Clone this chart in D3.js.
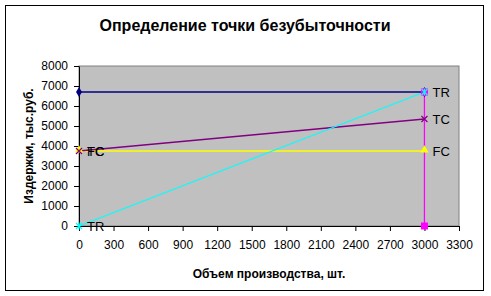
<!DOCTYPE html>
<html>
<head>
<meta charset="utf-8">
<script src="https://cdn.jsdelivr.net/npm/d3@7"></script>
<style>
  body { margin: 0; background: #fff; }
  text { font-family: Arial, "Liberation Sans", sans-serif; }
</style>
</head>
<body>
<div id="chart"></div>
<script>
// Break-even chart data
const xTicks = [0, 300, 600, 900, 1200, 1500, 1800, 2100, 2400, 2700, 3000, 3300];
const yTicks = [0, 1000, 2000, 3000, 4000, 5000, 6000, 7000, 8000];

const volume = [0, 3000];
const revenueLevel = [6700, 6700]; // navy horizontal
const trValues = [0, 6700];
const tcValues = [3750, 5350];
const fcValues = [3750, 3750];
const bepX = [3000, 3000];
const bepY = [0, 6700];

const W = 491, H = 296;
const margin = {top: 66, right: 32, bottom: 70, left: 79};
const width = W - margin.left - margin.right;
const height = H - margin.top - margin.bottom;

const svg = d3.select('#chart').append('svg')
  .attr('width', W).attr('height', H);

// outer frame
svg.append('rect')
  .attr('x', 5.5).attr('y', 5.5)
  .attr('width', 478).attr('height', 285)
  .attr('fill', '#fff').attr('stroke', '#000');

svg.append('text')
  .attr('x', 245).attr('y', 31)
  .attr('text-anchor', 'middle')
  .attr('font-size', 16).attr('font-weight', 'bold')
  .text('Определение точки безубыточности');

const g = svg.append('g').attr('transform', `translate(${margin.left},${margin.top})`);

const x = d3.scaleLinear().domain([0, 3300]).range([0, width]);
const y = d3.scaleLinear().domain([0, 8000]).range([height, 0]);

g.append('rect')
  .attr('width', width).attr('height', height)
  .attr('fill', '#c0c0c0').attr('stroke', '#808080');

// axes
const xAxis = g.append('g')
  .attr('transform', `translate(0,${height})`)
  .call(d3.axisBottom(x).tickValues(xTicks).tickFormat(d3.format('d'))
    .tickSize(5).tickSizeOuter(0).tickPadding(9));
const yAxis = g.append('g')
  .call(d3.axisLeft(y).tickValues(yTicks).tickFormat(d3.format('d'))
    .tickSize(5).tickSizeOuter(0).tickPadding(6));
[xAxis, yAxis].forEach(a => {
  a.selectAll('text').attr('font-size', 12).attr('font-family', 'Arial, "Liberation Sans", sans-serif').attr('fill', '#000');
  a.selectAll('line, path').attr('stroke', '#000');
});

svg.append('text')
  .attr('x', margin.left + width / 2).attr('y', 278)
  .attr('text-anchor', 'middle')
  .attr('font-size', 12).attr('font-weight', 'bold')
  .text('Объем производства, шт.');

svg.append('text')
  .attr('transform', `translate(33,${margin.top + height / 2}) rotate(-90)`)
  .attr('text-anchor', 'middle')
  .attr('font-size', 12).attr('font-weight', 'bold')
  .text('Издержки, тыс.руб.');

const line = d3.line().x(d => x(d[0])).y(d => y(d[1]));
const pts = (xs, ys) => xs.map((v, i) => [v, ys[i]]);

const series = [
  {data: pts(volume, revenueLevel), color: '#000080', marker: 'diamond', label: null},
  {data: pts(volume, fcValues), color: '#ffff00', marker: 'triangle', label: null},
  {data: pts(volume, tcValues), color: '#800080', marker: 'cross', label: 'TC'},
  {data: pts(bepX, bepY), color: '#ff00ff', marker: 'square', label: null},
  {data: pts(volume, trValues), color: '#00ffff', marker: 'star', label: 'TR'}
];
// FC label is drawn last so it sits over TC at the left end
const labelOrder = [series[2], series[4], {data: pts(volume, fcValues), label: 'FC'}];

series.forEach(s => {
  g.append('path')
    .datum(s.data)
    .attr('d', line)
    .attr('fill', 'none')
    .attr('stroke', s.color)
    .attr('stroke-width', 1.3);
});

series.forEach(s => {
  s.data.forEach(d => {
    const cx = x(d[0]), cy = y(d[1]);
    if (s.marker === 'diamond') {
      g.append('path').attr('d', d3.symbol(d3.symbolDiamond, 30)())
        .attr('transform', `translate(${cx},${cy})`).attr('fill', s.color);
    } else if (s.marker === 'triangle') {
      g.append('path').attr('d', d3.symbol(d3.symbolTriangle, 30)())
        .attr('transform', `translate(${cx},${cy - 1})`).attr('fill', s.color);
    } else if (s.marker === 'square') {
      g.append('rect').attr('x', cx - 3.5).attr('y', cy - 3.5)
        .attr('width', 7).attr('height', 7).attr('fill', s.color);
    } else if (s.marker === 'cross' || s.marker === 'star') {
      const p = d3.path();
      p.moveTo(cx - 3, cy - 3); p.lineTo(cx + 3, cy + 3);
      p.moveTo(cx - 3, cy + 3); p.lineTo(cx + 3, cy - 3);
      if (s.marker === 'star') { p.moveTo(cx, cy - 3.5); p.lineTo(cx, cy + 3.5); }
      g.append('path').attr('d', p.toString()).attr('stroke', s.color).attr('stroke-width', 1.2).attr('fill', 'none');
    }
  });
});

// data labels at both ends
labelOrder.forEach(s => {
  s.data.forEach(d => {
    g.append('text')
      .attr('x', x(d[0]) + 8).attr('y', y(d[1]) + 5)
      .attr('font-size', 13)
      .attr('fill', '#000')
      .text(s.label);
  });
});
</script>
</body>
</html>
